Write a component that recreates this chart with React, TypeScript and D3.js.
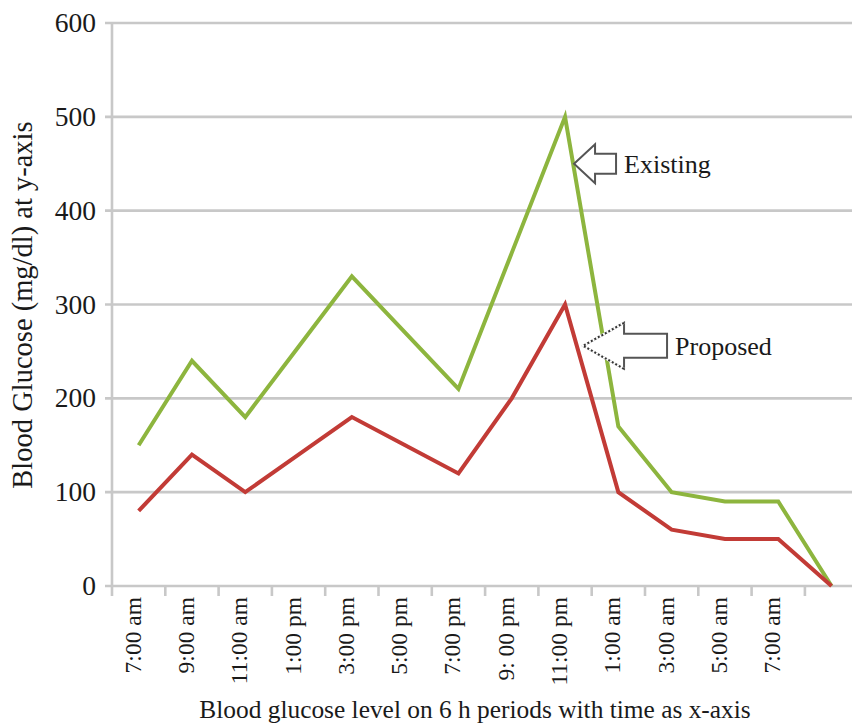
import { useEffect, useRef } from "react";
import * as d3 from "d3";

const categories = [
  "7:00 am", "9:00 am", "11:00 am", "1:00 pm", "3:00 pm", "5:00 pm", "7:00 pm",
  "9: 00 pm", "11:00 pm", "1:00 am", "3:00 am", "5:00 am", "7:00 am", "",
];
const existing = [150, 240, 180, 255, 330, 270, 210, 355, 500, 170, 100, 90, 90, 0];
const proposed = [80, 140, 100, 140, 180, 150, 120, 200, 300, 100, 60, 50, 50, 0];
const yTicks = [0, 100, 200, 300, 400, 500, 600];

const FONT = "'Liberation Serif', 'Times New Roman', serif";

export default function App() {
  const svgRef = useRef<SVGSVGElement>(null);

  useEffect(() => {
    if (!svgRef.current) return;
    const width = 852;
    const height = 727;
    const margin = { top: 23, left: 112, bottom: 586 };

    const svg = d3.select(svgRef.current);
    svg.selectAll("*").remove();

    const keys = categories.map((_, i) => String(i));
    const x = d3.scaleBand().domain(keys).range([margin.left, margin.left + 14 * 53.3]);
    const cx = (i: number) => x(String(i))! + x.bandwidth() / 2;

    const y = d3.scaleLinear().domain([0, 600]).range([margin.bottom, margin.top]);

    // gridlines
    svg.append("g")
      .selectAll("line")
      .data(yTicks)
      .join("line")
      .attr("x1", margin.left - 7)
      .attr("x2", width)
      .attr("y1", d => y(d))
      .attr("y2", d => y(d))
      .attr("stroke", "#c8c8c8")
      .attr("stroke-width", 2.6);

    // y axis line
    svg.append("line")
      .attr("x1", margin.left).attr("x2", margin.left)
      .attr("y1", y(600)).attr("y2", y(0) + 10)
      .attr("stroke", "#c8c8c8")
      .attr("stroke-width", 2.6);

    // x ticks between categories
    svg.append("g")
      .selectAll("line")
      .data(d3.range(1, 14))
      .join("line")
      .attr("x1", i => x(String(i))!)
      .attr("x2", i => x(String(i))!)
      .attr("y1", y(0))
      .attr("y2", y(0) + 10)
      .attr("stroke", "#c8c8c8")
      .attr("stroke-width", 2.6);

    // y tick labels
    svg.append("g")
      .selectAll("text")
      .data(yTicks)
      .join("text")
      .attr("x", 96)
      .attr("y", d => y(d))
      .attr("dy", "0.33em")
      .attr("text-anchor", "end")
      .attr("font-family", FONT)
      .attr("font-size", 27.5)
      .attr("fill", "#1a1a1a")
      .text(d => d);

    // x tick labels
    svg.append("g")
      .selectAll("text")
      .data(categories)
      .join("text")
      .attr("transform", (_, i) => `translate(${cx(i) + 2},${y(0) + 11}) rotate(-90)`)
      .attr("text-anchor", "end")
      .attr("font-family", FONT)
      .attr("font-size", 23.5)
      .attr("fill", "#1a1a1a")
      .text(d => d);

    // lines
    const line = d3.line<number>().x((_, i) => cx(i)).y(d => y(d));
    svg.append("path")
      .datum(existing)
      .attr("d", line)
      .attr("fill", "none")
      .attr("stroke", "#8db53e")
      .attr("stroke-width", 4)
      .attr("stroke-linejoin", "miter");
    svg.append("path")
      .datum(proposed)
      .attr("d", line)
      .attr("fill", "none")
      .attr("stroke", "#c23b36")
      .attr("stroke-width", 4)
      .attr("stroke-linejoin", "miter");

    // annotation arrows (hollow block arrows pointing left)
    const arrow = (tx: number, ty: number, headW: number, headH: number, shaftW: number, shaftH: number, label: string, dashedHead: boolean) => {
      const g = svg.append("g");
      const pts: [number, number][] = [
        [tx, ty],
        [tx + headW, ty - headH / 2],
        [tx + headW, ty - shaftH / 2],
        [tx + headW + shaftW, ty - shaftH / 2],
        [tx + headW + shaftW, ty + shaftH / 2],
        [tx + headW, ty + shaftH / 2],
        [tx + headW, ty + headH / 2],
      ];
      g.append("path")
        .attr("d", "M" + pts.map(p => p.join(",")).join("L") + "Z")
        .attr("fill", "white")
        .attr("stroke", "#555")
        .attr("stroke-width", 2);
      if (dashedHead) {
        g.append("path")
          .attr("d", `M${tx + headW},${ty - headH / 2}L${tx},${ty}L${tx + headW},${ty + headH / 2}`)
          .attr("fill", "none")
          .attr("stroke", "white")
          .attr("stroke-width", 2.4);
        g.append("path")
          .attr("d", `M${tx + headW},${ty - headH / 2}L${tx},${ty}L${tx + headW},${ty + headH / 2}`)
          .attr("fill", "none")
          .attr("stroke", "#333")
          .attr("stroke-width", 2)
          .attr("stroke-dasharray", "2,2");
      }
      g.append("text")
        .attr("x", tx + headW + shaftW + 8)
        .attr("y", ty + 9)
        .attr("font-family", FONT)
        .attr("font-size", 26)
        .attr("fill", "#1a1a1a")
        .text(label);
    };
    arrow(cx(8) + 9, y(450), 21, 39, 21, 20, "Existing", false);
    arrow(cx(8) + 18, y(256), 41, 46, 43, 24, "Proposed", true);

    // axis titles
    svg.append("text")
      .attr("transform", `translate(32,${(122 + 488) / 2}) rotate(-90)`)
      .attr("text-anchor", "middle")
      .attr("font-family", FONT)
      .attr("font-size", 28.5)
      .attr("fill", "#1a1a1a")
      .text("Blood Glucose (mg/dl) at y-axis");

    svg.append("text")
      .attr("x", 475)
      .attr("y", 718)
      .attr("text-anchor", "middle")
      .attr("font-family", FONT)
      .attr("font-size", 25.4)
      .attr("fill", "#1a1a1a")
      .text("Blood glucose level on 6 h periods with time as x-axis");

    svg.attr("viewBox", `0 0 ${width} ${height}`);
  }, []);

  return (
    <svg
      ref={svgRef}
      width={852}
      height={727}
      style={{ position: "absolute", left: 0, top: 0, background: "white" }}
    />
  );
}
